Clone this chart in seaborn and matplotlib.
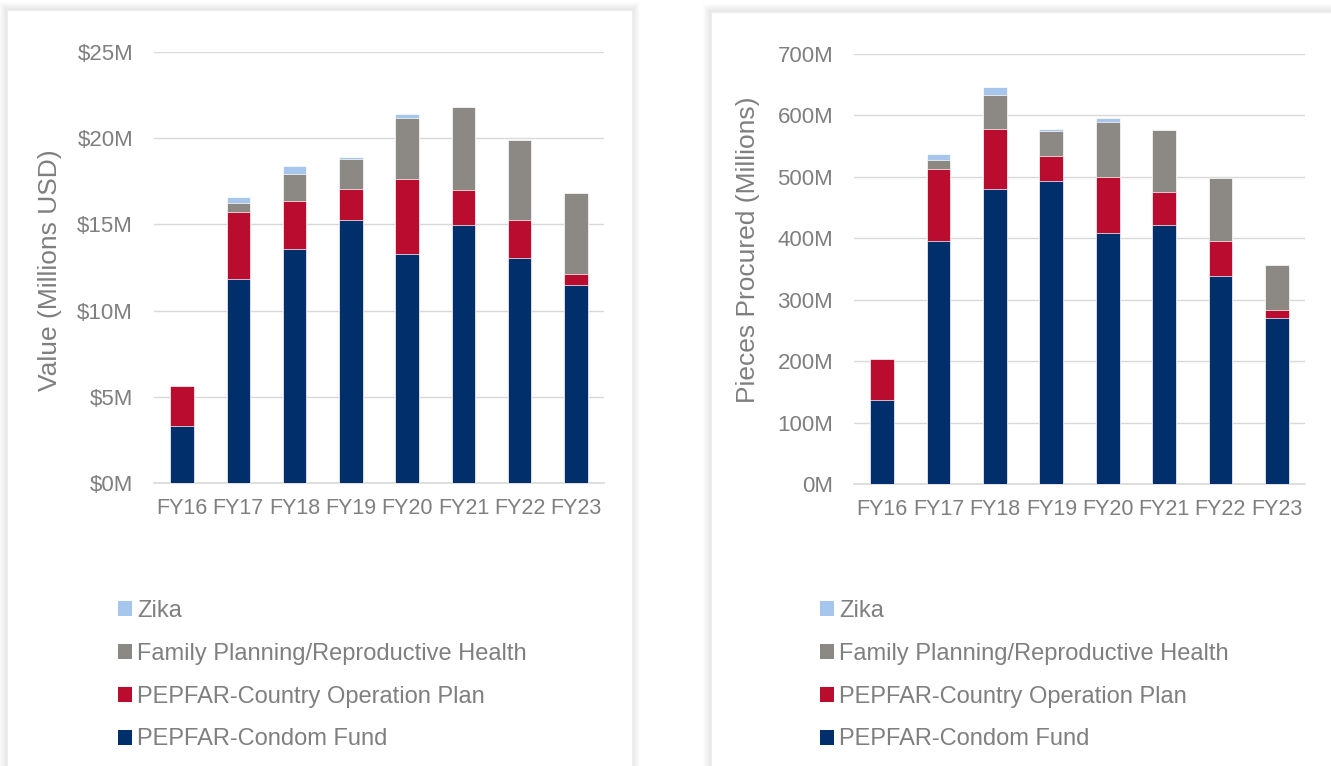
import numpy as np
import pandas as pd
import seaborn as sns
import matplotlib.pyplot as plt
from matplotlib.patches import Rectangle, Patch

# fiscal years on the x axis
years = ['FY16', 'FY17', 'FY18', 'FY19', 'FY20', 'FY21', 'FY22', 'FY23']

# left chart: value in millions USD
value_cf = [3.28, 11.83, 13.55, 15.25, 13.28, 14.94, 13.03, 11.50]
value_cop = [2.36, 3.87, 2.81, 1.78, 4.37, 2.03, 2.24, 0.60]
value_fp = [0, 0.52, 1.56, 1.78, 3.50, 4.84, 4.62, 4.70]
value_zika = [0, 0.37, 0.45, 0.12, 0.25, 0, 0, 0]

# right chart: pieces procured in millions
pieces_cf = [136, 396, 481, 493, 408, 421, 339, 270]
pieces_cop = [67, 117, 97, 41, 92, 54, 57, 14]
pieces_fp = [0, 15, 56, 41, 90, 102, 102, 72]
pieces_zika = [0, 10, 13, 3, 6.5, 0, 0, 0]

series = ['PEPFAR-Condom Fund', 'PEPFAR-Country Operation Plan',
          'Family Planning/Reproductive Health', 'Zika']
colors = ['#002F6C', '#BA0C2F', '#8C8985', '#A7C6ED']

value_ticks = [0, 5, 10, 15, 20, 25]
value_labels = ['$0M', '$5M', '$10M', '$15M', '$20M', '$25M']
pieces_ticks = [0, 100, 200, 300, 400, 500, 600, 700]
pieces_labels = ['0M', '100M', '200M', '300M', '400M', '500M', '600M', '700M']

sns.set_theme(style='white')
plt.rcParams['font.family'] = ['Liberation Sans', 'DejaVu Sans']

W, H = 1331, 766
fig = plt.figure(figsize=(W / 100, H / 100), dpi=100)
fig.set_facecolor('#ffffff')

text_gray = '#7f7f7f'
grid_gray = '#d9d9d9'


def px_box(x0, y0, x1, y1):
    # pixel box (top-left origin) -> figure fraction rect
    return [x0 / W, 1 - y1 / H, (x1 - x0) / W, (y1 - y0) / H]


def panel(x0, y0, x1, y1):
    # soft shadow then white card
    for i in range(8, 0, -1):
        r = px_box(x0 - i, y0 - i, x1 + i, y1 + i)
        fig.patches.append(Rectangle((r[0], r[1]), r[2], r[3], transform=fig.transFigure,
                                     facecolor='black', alpha=0.012, edgecolor='none', zorder=-20))
    r = px_box(x0, y0, x1, y1)
    fig.patches.append(Rectangle((r[0], r[1]), r[2], r[3], transform=fig.transFigure,
                                 facecolor='white', edgecolor='#eeeeee', lw=0.8, zorder=-10))


panel(7, 10, 632, 780)
panel(711, 12, 1345, 780)


def stacked(ax, layers, ylim, ticks, labels, ylabel, label_xy):
    df = pd.DataFrame(dict(zip(series, layers)), index=years)
    cum = df.cumsum(axis=1)
    for name, col in reversed(list(zip(series, colors))):
        sns.barplot(x=years, y=cum[name].values, color=col, width=0.42, saturation=1,
                    edgecolor='white', linewidth=0.5, ax=ax, zorder=3)
    ax.set_xlim(-0.5, 7.5)
    ax.set_ylim(*ylim)
    ax.set_yticks(ticks)
    ax.set_yticklabels(labels)
    ax.set_facecolor('none')
    ax.yaxis.grid(True, color=grid_gray, lw=1)
    ax.set_axisbelow(True)
    for s in ['top', 'right', 'left']:
        ax.spines[s].set_visible(False)
    ax.spines['bottom'].set_color(grid_gray)
    ax.spines['bottom'].set_linewidth(1.2)
    ax.tick_params(axis='y', length=0, pad=15, labelsize=16, labelcolor=text_gray)
    ax.tick_params(axis='x', length=0, pad=11, labelsize=15.5, labelcolor=text_gray)
    ax.set_xlabel('')
    ax.set_ylabel(ylabel, fontsize=19, color=text_gray)
    ax.yaxis.label.set_verticalalignment('center')
    ax.yaxis.set_label_coords(*label_xy)


ax1 = fig.add_axes(px_box(154, 52, 604, 483))
stacked(ax1, [value_cf, value_cop, value_fp, value_zika], (0, 25),
        value_ticks, value_labels, 'Value (Millions USD)', (-0.231, 0.494))

ax2 = fig.add_axes(px_box(854, 54, 1305, 484))
stacked(ax2, [pieces_cf, pieces_cop, pieces_fp, pieces_zika], (0, 700),
        pieces_ticks, pieces_labels, 'Pieces Procured (Millions)', (-0.235, 0.544))

handles = [Patch(facecolor=c, edgecolor='none') for c in reversed(colors)]
names = list(reversed(series))
for x in [118, 820]:
    leg = fig.legend(handles, names, loc='upper left', bbox_to_anchor=(x / W, 1 - 600 / H),
                     frameon=False, fontsize=17, handlelength=0.6, handleheight=0.6,
                     handletextpad=0.2, labelspacing=0.88, borderpad=0, borderaxespad=0)
    for t in leg.get_texts():
        t.set_color(text_gray)

fig.savefig('out.png', dpi=100, facecolor=fig.get_facecolor())
